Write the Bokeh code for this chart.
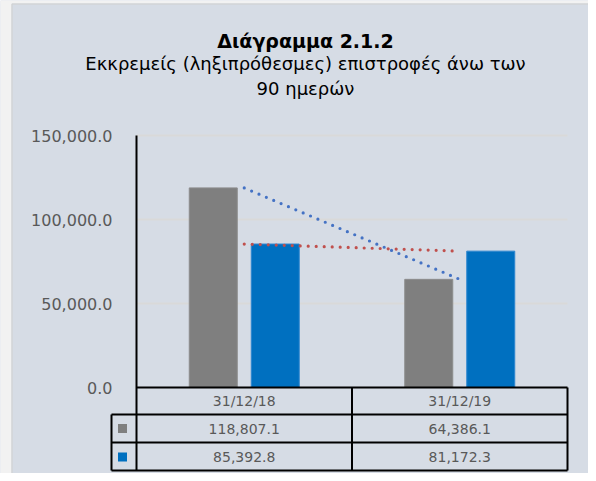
import numpy as np
from bokeh.plotting import figure
from bokeh.models import Range1d
from bokeh.embed import file_html
from bokeh.resources import INLINE
from bokeh.core.properties import value

# ---- data ----
title_main = "Διάγραμμα 2.1.2"
subtitle_lines = ["Εκκρεμείς (ληξιπρόθεσμες) επιστροφές άνω των", "90 ημερών"]
categories = ["31/12/18", "31/12/19"]
series_grey = [118807.1, 64386.1]
series_blue = [85392.8, 81172.3]
y_ticks = [0, 50000, 100000, 150000]
y_max = 150000

# ---- layout (reference pixels) ----
W, H = 588, 473
ORG = 0                  # canvas origin in reference pixels
FX0, FX1 = 136, 567      # plot frame left / right
FY0, FY1 = 387, 135      # pixel rows of y=0 and y=y_max
U = (FX1 - FX0) / len(categories)
K = (FY0 - FY1) / y_max


def X(px):
    return (px - FX0) / U


def Y(py):
    return (FY0 - py) / K


BG = "#D6DCE5"
FONT = value("DejaVu Sans")
TXT = "#595959"

p = figure(width=W, height=H, output_backend="svg", toolbar_location=None,
           x_range=Range1d(X(ORG), X(ORG + W)),
           y_range=Range1d(Y(ORG + H), Y(ORG)),
           x_axis_location=None, y_axis_location=None,
           min_border=0, title=None)
p.grid.visible = False
p.background_fill_color = BG
p.border_fill_color = BG
p.outline_line_color = None

n = len(categories)
centers = np.arange(n) + 0.5

# outer page strip (left / top)
p.quad(left=[X(0), X(0)], right=[X(11), X(W + 10)], bottom=[Y(H + 10), Y(3)],
       top=[Y(0), Y(0)], fill_color="#F2F2F2", line_color=None)
p.segment(x0=[X(11.5), X(11.5)], x1=[X(11.5), X(W + 10)],
          y0=[Y(H + 10), Y(3.5)], y1=[Y(3.5), Y(3.5)],
          line_color="#CFCFCF", line_width=1)

# gridlines
grid_vals = [t for t in y_ticks if t > 0]
p.segment(x0=[X(FX0)] * len(grid_vals), x1=[X(FX1)] * len(grid_vals),
          y0=grid_vals, y1=grid_vals, line_color="#D9D9D9", line_width=2)

# bars
off = 31 / U
bw = 48 / U
p.vbar(x=centers - off, top=series_grey, width=bw, bottom=0,
       fill_color="#7F7F7F", line_color="#8C8C8C", line_width=1)
p.vbar(x=centers + off, top=series_blue, width=bw, bottom=0,
       fill_color="#0070C0", line_color="#2E86D0", line_width=1)

# linear trend lines
idx = np.arange(1, n + 1)
for series, col in ((series_grey, "#4472C4"), (series_blue, "#C0504D")):
    coef = np.polyfit(idx, series, 1)
    trend = np.polyval(coef, idx)
    p.line(centers, trend, line_color=col, line_width=3.2,
           line_dash="0 8", line_cap="round")

# y tick labels
p.text(x=[X(112)] * len(y_ticks), y=y_ticks,
       text=[f"{t:,.1f}" for t in y_ticks],
       text_align="right", text_baseline="middle",
       text_font=FONT, text_font_size="16px", text_color=TXT)

# table lines (axis line included)
hx0 = [X(FX0), X(111), X(111), X(111)]
hx1 = [X(FX1)] * 4
hy = [Y(387), Y(414), Y(442), Y(470)]
p.segment(x0=hx0, x1=hx1, y0=hy, y1=hy, line_color="black", line_width=2)
vx = [X(111), X(FX0), 1.0, 2.0]
vy0 = [Y(414), Y(FY1), Y(387), Y(387)]
vy1 = [Y(470)] * 4
p.segment(x0=vx, x1=vx, y0=vy0, y1=vy1, line_color="black", line_width=2)

# table texts
TS = "14px"
p.text(x=centers, y=[Y(400.5)] * n, text=categories,
       text_align="center", text_baseline="middle",
       text_font=FONT, text_font_size=TS, text_color=TXT)
p.text(x=centers, y=[Y(428)] * n, text=[f"{v:,.1f}" for v in series_grey],
       text_align="center", text_baseline="middle",
       text_font=FONT, text_font_size=TS, text_color=TXT)
p.text(x=centers, y=[Y(456)] * n, text=[f"{v:,.1f}" for v in series_blue],
       text_align="center", text_baseline="middle",
       text_font=FONT, text_font_size=TS, text_color=TXT)

# legend swatches
p.scatter(x=[X(122), X(122)], y=[Y(428), Y(456.5)], marker="square", size=9,
          fill_color=["#7F7F7F", "#0070C0"], line_color=None)

# titles
p.text(x=[X(305)], y=[Y(40)], text=[title_main], text_align="center",
       text_baseline="middle", text_font=FONT, text_font_size="19px",
       text_font_style="bold", text_color="black")
p.text(x=[X(305)] * 2, y=[Y(63), Y(88)], text=subtitle_lines,
       text_align="center", text_baseline="middle", text_font=FONT,
       text_font_size="18px", text_color="black")

open("out.html", "w").write(file_html(p, INLINE))
